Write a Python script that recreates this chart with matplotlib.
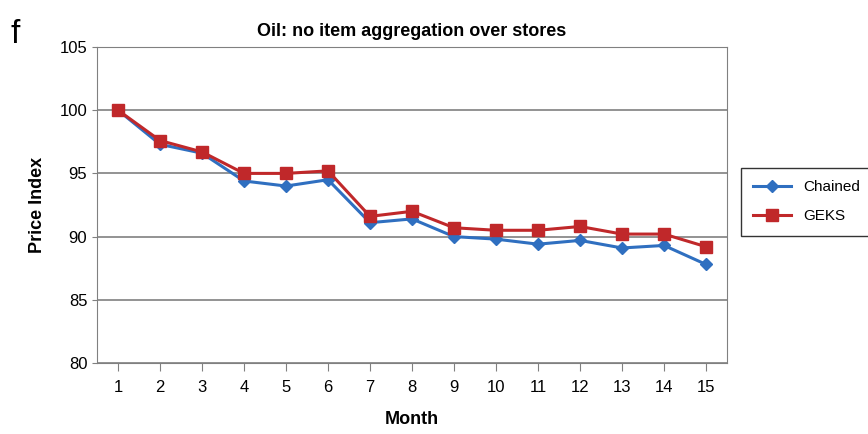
import matplotlib.pyplot as plt

plt.rcParams['font.family'] = ['Liberation Sans', 'DejaVu Sans']

months = list(range(1, 16))
chained = [100, 97.3, 96.6, 94.4, 94.0, 94.5, 91.1, 91.4, 90.0, 89.8, 89.4, 89.7, 89.1, 89.3, 87.8]
geks = [100, 97.6, 96.7, 95.0, 95.0, 95.2, 91.6, 92.0, 90.7, 90.5, 90.5, 90.8, 90.2, 90.2, 89.2]
yticks = [80, 85, 90, 95, 100, 105]

fig = plt.figure(figsize=(8.68, 4.34), dpi=100)
ax = fig.add_axes([97 / 868, 1 - 363 / 434, 630 / 868, 316 / 434])

ax.plot(months, chained, color='#2f6fc0', marker='D', markersize=6, linewidth=2.2, label='Chained')
ax.plot(months, geks, color='#c0282a', marker='s', markersize=9, linewidth=2.2, label='GEKS')

ax.set_xlim(0.5, 15.5)
ax.set_ylim(80, 105)
ax.set_xticks(months)
ax.set_yticks(yticks)
ax.yaxis.grid(True, color='#808080', linewidth=1.2)
ax.set_axisbelow(True)
for s in ax.spines.values():
    s.set_color('#808080')
ax.tick_params(labelsize=12, color='#808080')
ax.tick_params(axis='x', length=6, pad=6)
ax.set_xlabel('Month', fontsize=13, fontweight='bold', labelpad=12)
ax.set_ylabel('Price Index', fontsize=13, fontweight='bold', labelpad=10)
ax.set_title('Oil: no item aggregation over stores', fontsize=13, fontweight='bold', pad=8)

ax.legend(loc='center left', bbox_to_anchor=(1.01, 0.51), fontsize=11, frameon=True,
          fancybox=False, edgecolor='black', handlelength=2.5, borderpad=0.8, labelspacing=1.0)
fig.text(0.012, 0.9, 'f', fontsize=24)

fig.savefig('out.png', dpi=100)
